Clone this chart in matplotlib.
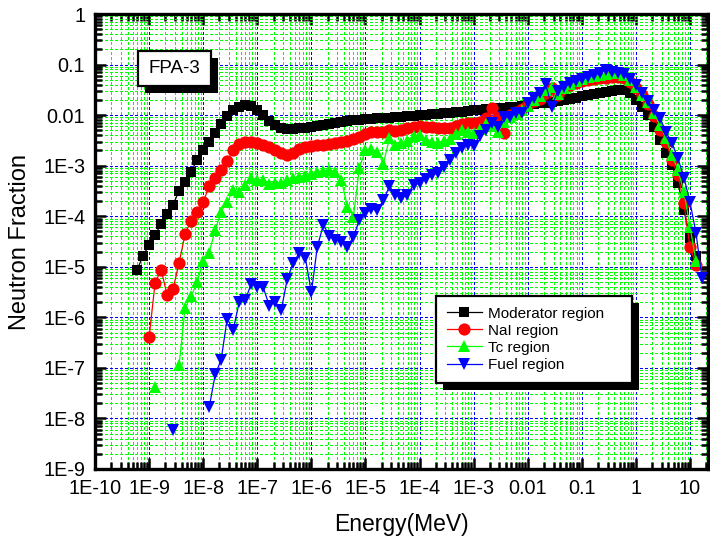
import numpy as np
import matplotlib
matplotlib.use('Agg')
import matplotlib.pyplot as plt
from matplotlib.ticker import LogLocator, FixedLocator, FixedFormatter, NullFormatter
from matplotlib.patches import Rectangle

nan = np.nan

# Energy grid (MeV), 9 points per decade
energy_mev = [
    5.99e-10, 7.74e-10,
    1.00e-9, 1.29e-9, 1.67e-9, 2.15e-9, 2.78e-9, 3.59e-9, 4.64e-9, 5.99e-9, 7.74e-9,
    1.00e-8, 1.29e-8, 1.67e-8, 2.15e-8, 2.78e-8, 3.59e-8, 4.64e-8, 5.99e-8, 7.74e-8,
    1.00e-7, 1.29e-7, 1.67e-7, 2.15e-7, 2.78e-7, 3.59e-7, 4.64e-7, 5.99e-7, 7.74e-7,
    1.00e-6, 1.29e-6, 1.67e-6, 2.15e-6, 2.78e-6, 3.59e-6, 4.64e-6, 5.99e-6, 7.74e-6,
    1.00e-5, 1.29e-5, 1.67e-5, 2.15e-5, 2.78e-5, 3.59e-5, 4.64e-5, 5.99e-5, 7.74e-5,
    1.00e-4, 1.29e-4, 1.67e-4, 2.15e-4, 2.78e-4, 3.59e-4, 4.64e-4, 5.99e-4, 7.74e-4,
    1.00e-3, 1.29e-3, 1.67e-3, 2.15e-3, 2.78e-3, 3.59e-3, 4.64e-3, 5.99e-3, 7.74e-3,
    1.00e-2, 1.29e-2, 1.67e-2, 2.15e-2, 2.78e-2, 3.59e-2, 4.64e-2, 5.99e-2, 7.74e-2,
    1.00e-1, 1.29e-1, 1.67e-1, 2.15e-1, 2.78e-1, 3.59e-1, 4.64e-1, 5.99e-1, 7.74e-1,
    1.00e0, 1.29e0, 1.67e0, 2.15e0, 2.78e0, 3.59e0, 4.64e0, 5.99e0, 7.74e0,
    1.00e1, 1.29e1, 1.67e1,
]

moderator = [
    8.7e-6, 1.65e-5,
    2.7e-5, 4.3e-5, 7.0e-5, 1.1e-4, 1.7e-4, 3.2e-4, 4.8e-4, 7.6e-4, 1.3e-3,
    2.0e-3, 3.0e-3, 4.4e-3, 6.7e-3, 9.6e-3, 1.27e-2, 1.45e-2, 1.6e-2, 1.5e-2,
    1.27e-2, 1.0e-2, 7.7e-3, 6.4e-3, 5.6e-3, 5.4e-3, 5.4e-3, 5.6e-3, 5.6e-3,
    5.8e-3, 6.1e-3, 6.4e-3, 6.7e-3, 7.0e-3, 7.3e-3, 7.7e-3, 8.0e-3, 8.0e-3,
    8.4e-3, 8.4e-3, 8.8e-3, 8.8e-3, 8.8e-3, 9.2e-3, 9.2e-3, 9.6e-3, 9.6e-3,
    1.0e-2, 1.0e-2, 1.05e-2, 1.05e-2, 1.1e-2, 1.1e-2, 1.16e-2, 1.16e-2, 1.2e-2,
    1.27e-2, 1.27e-2, 1.3e-2, 1.3e-2, 1.4e-2, 1.4e-2, 1.45e-2, 1.45e-2, 1.5e-2,
    1.6e-2, 1.66e-2, 1.74e-2, 1.74e-2, 1.8e-2, 1.9e-2, 2.0e-2, 2.1e-2, 2.2e-2,
    2.4e-2, 2.5e-2, 2.6e-2, 2.75e-2, 2.9e-2, 3.0e-2, 3.15e-2, 3.15e-2, 2.75e-2,
    2.0e-2, 1.45e-2, 1.0e-2, 5.8e-3, 3.2e-3, 1.8e-3, 1.04e-3, 4.6e-4, 1.3e-4,
    3.7e-5, 1.6e-5, nan,
]

nai = [
    nan, nan,
    4.0e-7, 4.8e-6, 8.7e-6, 2.8e-6, 3.7e-6, 1.2e-5, 4.5e-5, 8.1e-5, 1.2e-4,
    1.9e-4, 3.9e-4, 5.7e-4, 8.3e-4, 1.25e-3, 2.0e-3, 2.7e-3, 3.0e-3, 3.0e-3,
    2.8e-3, 2.6e-3, 2.3e-3, 2.0e-3, 1.8e-3, 1.6e-3, 1.8e-3, 2.1e-3, 2.3e-3,
    2.5e-3, 2.6e-3, 2.6e-3, 2.7e-3, 2.8e-3, 3.0e-3, 3.1e-3, 3.4e-3, 3.7e-3,
    4.2e-3, 4.7e-3, 4.7e-3, 4.7e-3, 5.1e-3, 4.9e-3, 5.1e-3, 5.6e-3, 5.8e-3,
    6.1e-3, 5.8e-3, 5.8e-3, 5.6e-3, 5.6e-3, 5.6e-3, 6.1e-3, 6.7e-3, 7.0e-3,
    7.0e-3, 7.3e-3, 8.8e-3, 1.4e-2, 9.2e-3, 4.4e-3, 1.0e-2, 1.16e-2, 1.3e-2,
    1.66e-2, 1.9e-2, 2.1e-2, 2.7e-2, 3.45e-2, 2.5e-2, 3.45e-2, 3.95e-2, 4.3e-2,
    4.7e-2, 5.0e-2, 5.2e-2, 5.4e-2, 5.4e-2, 5.7e-2, 5.7e-2, 5.4e-2, 4.5e-2,
    3.45e-2, 2.5e-2, 1.66e-2, 9.6e-3, 5.1e-3, 3.0e-3, 1.3e-3, 6.6e-4, 1.8e-4,
    2.5e-5, 1.1e-5, nan,
]

tc = [
    nan, nan,
    nan, 4.1e-8, nan, nan, nan, 1.15e-7, 1.55e-6, 2.6e-6, 5.0e-6,
    1.3e-5, 1.9e-5, 5.4e-5, 1.23e-4, 1.9e-4, 3.3e-4, 3.0e-4, 4.2e-4, 5.7e-4,
    5.2e-4, 5.2e-4, 4.4e-4, 4.6e-4, 4.6e-4, 5.2e-4, 5.7e-4, 6.0e-4, 6.3e-4,
    6.9e-4, 7.5e-4, 7.9e-4, 8.3e-4, 7.5e-4, 5.2e-4, 1.55e-4, 9.8e-5, 9.1e-4,
    2.0e-3, 2.1e-3, 1.9e-3, 1.1e-3, 3.5e-3, 2.6e-3, 2.8e-3, 3.1e-3, 3.9e-3,
    4.1e-3, 3.2e-3, 3.0e-3, 2.8e-3, 3.1e-3, 3.4e-3, 4.2e-3, 5.1e-3, 4.7e-3,
    4.4e-3, 5.3e-3, 6.7e-3, 6.1e-3, 4.7e-3, 7.3e-3, 9.2e-3, 1.05e-2, 1.27e-2,
    1.5e-2, 2.0e-2, 2.4e-2, 3.15e-2, 3.6e-2, 2.6e-2, 3.45e-2, 4.1e-2, 4.7e-2,
    5.2e-2, 5.7e-2, 5.9e-2, 6.2e-2, 6.5e-2, 6.8e-2, 6.8e-2, 6.2e-2, 5.0e-2,
    3.6e-2, 2.5e-2, 1.8e-2, 1.1e-2, 6.4e-3, 3.5e-3, 1.6e-3, 8.3e-4, 3.0e-4,
    6.2e-5, 1.3e-5, nan,
]

fuel = [
    nan, nan,
    nan, nan, nan, nan, 5.8e-9, nan, nan, nan, nan,
    nan, 1.65e-8, 7.4e-8, 1.45e-7, 9.4e-7, 5.7e-7, 2.0e-6, 2.2e-6, 4.6e-6,
    4.0e-6, 3.9e-6, 1.7e-6, 2.0e-6, 1.4e-6, 5.8e-6, 1.2e-5, 1.9e-5, 1.5e-5,
    3.1e-6, 2.5e-5, 6.8e-5, 4.1e-5, 3.4e-5, 3.1e-5, 2.5e-5, 3.9e-5, 8.5e-5,
    1.15e-4, 1.4e-4, 1.3e-4, 2.1e-4, 3.9e-4, 2.6e-4, 2.3e-4, 2.6e-4, 4.2e-4,
    4.6e-4, 5.5e-4, 6.5e-4, 7.1e-4, 9.5e-4, 1.3e-3, 1.8e-3, 2.2e-3, 2.6e-3,
    2.5e-3, 3.9e-3, 5.1e-3, 7.0e-3, 5.8e-3, 9.2e-3, 9.2e-3, 1.1e-2, 1.1e-2,
    1.75e-2, 2.2e-2, 2.7e-2, 4.1e-2, 1.45e-2, 3.0e-2, 3.6e-2, 4.3e-2, 4.7e-2,
    5.2e-2, 5.7e-2, 6.2e-2, 6.8e-2, 7.8e-2, 7.2e-2, 6.8e-2, 6.5e-2, 5.2e-2,
    4.0e-2, 2.7e-2, 1.9e-2, 1.27e-2, 8.8e-3, 4.7e-3, 2.8e-3, 1.4e-3, 5.8e-4,
    1.9e-4, 4.7e-5, 6.0e-6,
]

series_labels = ['Moderator region', 'NaI region', 'Tc region', 'Fuel region']

x_tick_values = [1e-10, 1e-9, 1e-8, 1e-7, 1e-6, 1e-5, 1e-4, 1e-3, 1e-2, 1e-1, 1e0, 1e1]
x_tick_labels = ['1E-10', '1E-9', '1E-8', '1E-7', '1E-6', '1E-5', '1E-4', '1E-3',
                 '0.01', '0.1', '1', '10']
y_tick_values = [1e-9, 1e-8, 1e-7, 1e-6, 1e-5, 1e-4, 1e-3, 1e-2, 1e-1, 1e0]
y_tick_labels = ['1E-9', '1E-8', '1E-7', '1E-6', '1E-5', '1E-4', '1E-3', '0.01', '0.1', '1']

plt.rcParams['font.family'] = ['Liberation Sans', 'DejaVu Sans']

W, H = 710, 538
fig = plt.figure(figsize=(W / 100, H / 100), dpi=100)
ax_left, ax_right, ax_top, ax_bottom = 95, 708.5, 14, 469
ax = fig.add_axes([ax_left / W, (H - ax_bottom) / H,
                   (ax_right - ax_left) / W, (ax_bottom - ax_top) / H])
ax.set_xscale('log')
ax.set_yscale('log')

styles = [
    dict(color='#000000', marker='s', markersize=7.2),
    dict(color='#ff0000', marker='o', markersize=8.8),
    dict(color='#00ff00', marker='^', markersize=8.5),
    dict(color='#0000ff', marker='v', markersize=8.5),
]
for vals, lab, st in zip([moderator, nai, tc, fuel], series_labels, styles):
    ax.plot(energy_mev, vals, label=lab, linewidth=0.9, markeredgewidth=0,
            markerfacecolor=st['color'], **st)

ax.set_xlim(1e-10, 22)
ax.set_ylim(1e-9, 1)

ax.xaxis.set_major_locator(FixedLocator(x_tick_values))
ax.xaxis.set_major_formatter(FixedFormatter(x_tick_labels))
ax.yaxis.set_major_locator(FixedLocator(y_tick_values))
ax.yaxis.set_major_formatter(FixedFormatter(y_tick_labels))
for axis in (ax.xaxis, ax.yaxis):
    axis.set_minor_locator(LogLocator(base=10, subs=np.arange(2, 10), numticks=60))
    axis.set_minor_formatter(NullFormatter())

ax.set_axisbelow(True)
ax.grid(which='minor', color='#00ff00', linestyle=(0, (1.5, 1.5)), linewidth=1.0,
        antialiased=False)
ax.grid(which='major', color='#0000ff', linestyle=(0, (1.5, 1.5)), linewidth=1.0,
        antialiased=False)

ax.tick_params(which='both', direction='in', top=True, right=True, width=1.8,
               labelsize=14.3, colors='black')
ax.tick_params(which='major', length=8, pad=7)
ax.tick_params(which='minor', length=5)
for sp in ax.spines.values():
    sp.set_linewidth(2.4)

ax.set_xlabel('Energy(MeV)', fontsize=16.5, labelpad=11)
ax.set_ylabel('Neutron Fraction', fontsize=17, labelpad=9)

# FPA-3 label box with shadow
pw, ph = ax_right - ax_left, ax_bottom - ax_top
bx0, by0, bw, bh = (138 - ax_left) / pw, (ax_bottom - 86) / ph, 73 / pw, 35 / ph
sdx, sdy = 7 / pw, 7 / ph
ax.add_patch(Rectangle((bx0 + sdx, by0 - sdy), bw, bh, transform=ax.transAxes,
                       facecolor='black', edgecolor='none', zorder=6))
ax.add_patch(Rectangle((bx0, by0), bw, bh, transform=ax.transAxes,
                       facecolor='white', edgecolor='black', linewidth=1.6, zorder=6.1))
ax.text(bx0 + bw / 2, by0 + bh / 2, 'FPA-3', transform=ax.transAxes, ha='center',
        va='center', fontsize=13.5, zorder=6.2)

# Legend with shadow
lx0, lx1, ly_top = (436 - ax_left) / pw, (632 - ax_left) / pw, (ax_bottom - 296) / ph
leg = ax.legend(loc='upper left', bbox_to_anchor=(lx0, ly_top - 0.2, lx1 - lx0, 0.2),
                mode='expand', borderaxespad=0, fontsize=11, numpoints=1,
                handlelength=2.3, handletextpad=0.4, borderpad=0.7,
                labelspacing=0.2, fancybox=False, framealpha=1, edgecolor='black')
leg.get_frame().set_linewidth(1.6)
leg.set_zorder(7)
fig.canvas.draw()
bb = leg.get_window_extent().transformed(ax.transAxes.inverted())
ax.add_patch(Rectangle((bb.x0 + sdx, bb.y0 - sdy), bb.width, bb.height,
                       transform=ax.transAxes, facecolor='black', edgecolor='none',
                       zorder=6.9, clip_on=False))

fig.savefig('out.png', dpi=100)
